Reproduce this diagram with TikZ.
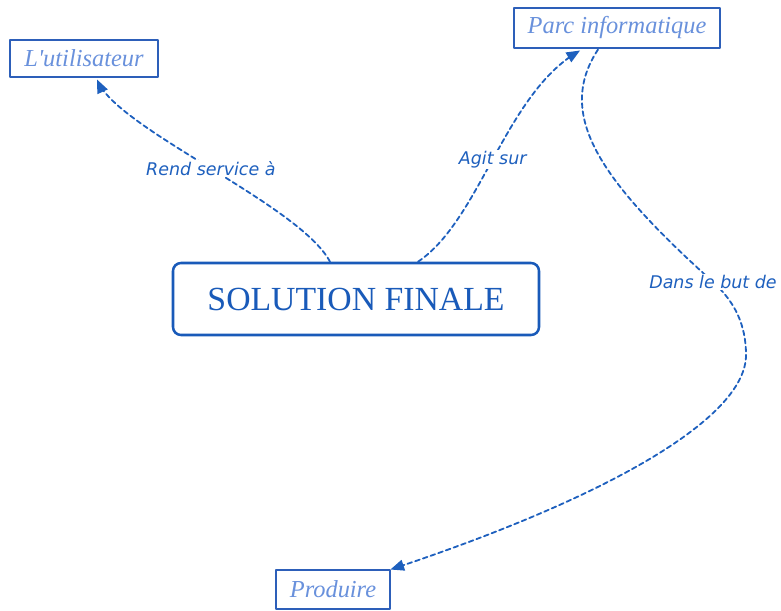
\documentclass[tikz,border=0pt]{standalone}
\usepackage{fontspec}
\setmainfont{Liberation Serif}
\newfontfamily\labelfont{DejaVu Sans}
\usepackage{xcolor}
\usetikzlibrary{arrows,calc}
\definecolor{lienbleu}{RGB}{30,96,190}
\definecolor{cadrebleu}{RGB}{45,95,185}
\definecolor{textebleu}{RGB}{105,145,220}
\definecolor{solbleu}{RGB}{25,90,185}
\tikzset{
  concept/.style={draw=cadrebleu,line width=0.8pt,fill=white,inner sep=0pt,
    font=\fontsize{18.3}{20}\selectfont\itshape,text=textebleu},
  solution/.style={draw=solbleu,line width=1.9pt,rounded corners=6pt,fill=white,
    minimum width=274.5pt,minimum height=54pt,inner sep=0pt,
    font=\fontsize{25.3}{28}\selectfont,text=solbleu},
  lien/.style={->,draw=lienbleu,line width=1.35pt,dash pattern=on 3.6pt off 2.5pt},
  etiquette/.style={fill=white,inner sep=1pt,text=lienbleu,
    font=\labelfont\fontsize{13.1}{15}\selectfont\itshape}
}
\begin{document}
\begin{tikzpicture}[line cap=round,line join=round,>=triangle 45,x=0.75pt,y=-0.75pt]
		\useasboundingbox (0,0) rectangle (781,610);
		% les concepts
		\node[solution] (sol) at (356,299) {SOLUTION FINALE};
		\node[concept,minimum width=111pt,minimum height=27.75pt] (util) at (84,58.5) {L\textquotesingle utilisateur};
		\node[concept,minimum width=154.5pt,minimum height=30pt] (parc) at (617,28) {Parc informatique};
		\node[concept,minimum width=85.5pt,minimum height=29.25pt] (prod) at (333,589.5) {Produire};
		% les liens
		\draw[lien] ($(sol.north)+(-26,0)$) .. controls (300,205) and (120,130) .. ($(util.south)+(13,2)$)
			node[etiquette,pos=0.5] {Rend service à};
		\draw[lien] ($(sol.north)+(62,0)$) .. controls (480,220) and (505,95) .. ($(parc.south)+(-37,2)$)
			node[etiquette,pos=0.49] {Agit sur};
		\draw[lien] ($(parc.south)+(-19,1)$) .. controls (555,115) and (600,180) .. (713,282)
			.. controls (735,302) and (746,325) .. (746,355)
			.. controls (746,420) and (600,500) .. (prod.north east);
		\node[etiquette] (but) at (713,282) {Dans le but de};
	\end{tikzpicture}
\end{document}
